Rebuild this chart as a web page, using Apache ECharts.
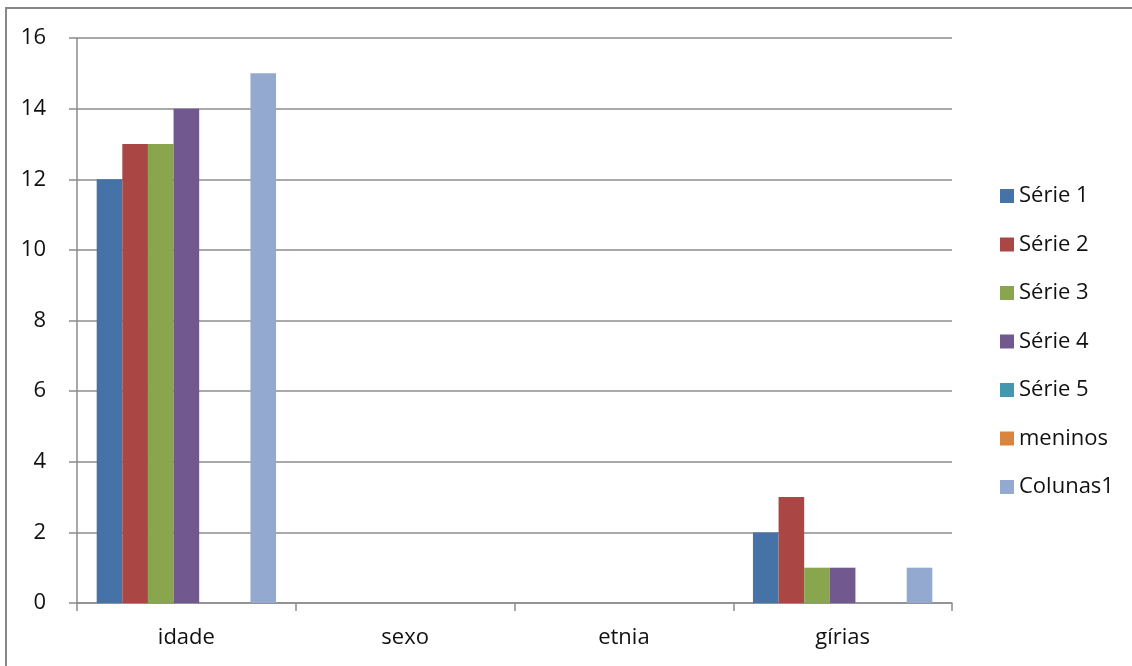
<!DOCTYPE html>
<html>
<head>
<meta charset="utf-8">
<script src="https://cdn.jsdelivr.net/npm/echarts@6/dist/echarts.min.js"></script>
<style>
  html, body { margin: 0; padding: 0; background: #fff; }
  #chart { width: 1132px; height: 666px; }
</style>
</head>
<body>
<div id="chart"></div>
<script>
// Categories along the horizontal axis
const categories = ['idade', 'sexo', 'etnia', 'gírias'];

// Series names and values (null = no bar)
const seriesNames = ['Série 1', 'Série 2', 'Série 3', 'Série 4', 'Série 5', 'meninos', 'Colunas1'];
const serie1   = [12, null, null, 2];
const serie2   = [13, null, null, 3];
const serie3   = [13, null, null, 1];
const serie4   = [14, null, null, 1];
const serie5   = [null, null, null, null];
const meninos  = [null, null, null, null];
const colunas1 = [15, null, null, 1];

const seriesValues = [serie1, serie2, serie3, serie4, serie5, meninos, colunas1];
const colors = ['#4572A7', '#AA4643', '#89A54E', '#71588F', '#4198AF', '#DB843D', '#93A9CF'];

// Value-axis ticks
const yMin = 0, yMax = 16, yStep = 2;

const font = '"Open Sans", "DejaVu Sans", sans-serif';
const textColor = '#111111';
const chart = echarts.init(document.getElementById('chart'));

chart.setOption({
  animation: false,
  color: colors,
  textStyle: { fontFamily: font },
  graphic: [{
    type: 'rect',
    shape: { x: 6, y: 8, width: 1200, height: 700 },
    style: { fill: 'none', stroke: '#888888', lineWidth: 2 },
    silent: true
  }],
  grid: { left: 77, right: 180, top: 38, bottom: 63 },
  legend: {
    orient: 'vertical',
    left: 995,
    top: 180,
    icon: 'rect',
    itemWidth: 14,
    itemHeight: 14,
    itemGap: 26.5,
    data: seriesNames,
    textStyle: { fontSize: 22, color: textColor, fontFamily: font, lineHeight: 20 }
  },
  xAxis: {
    type: 'category',
    data: categories,
    axisLine: { lineStyle: { color: '#8c8c8c', width: 1.5 } },
    axisTick: { show: true, length: 8, lineStyle: { color: '#8c8c8c', width: 1.5 } },
    axisLabel: { fontSize: 22, color: textColor, margin: 24, fontFamily: font }
  },
  yAxis: {
    type: 'value',
    min: yMin,
    max: yMax,
    interval: yStep,
    axisLine: { show: true, lineStyle: { color: '#8c8c8c', width: 1.5 } },
    axisTick: { show: true, length: 8, lineStyle: { color: '#8c8c8c', width: 1.5 } },
    axisLabel: { fontSize: 22, color: textColor, margin: 31, fontFamily: font },
    splitLine: { lineStyle: { color: '#8c8c8c', width: 1.5 } }
  },
  series: seriesNames.map((name, i) => ({
    name: name,
    type: 'bar',
    data: seriesValues[i],
    barGap: 0,
    barCategoryGap: '18%',
    itemStyle: { color: colors[i] }
  }))
});
</script>
</body>
</html>
